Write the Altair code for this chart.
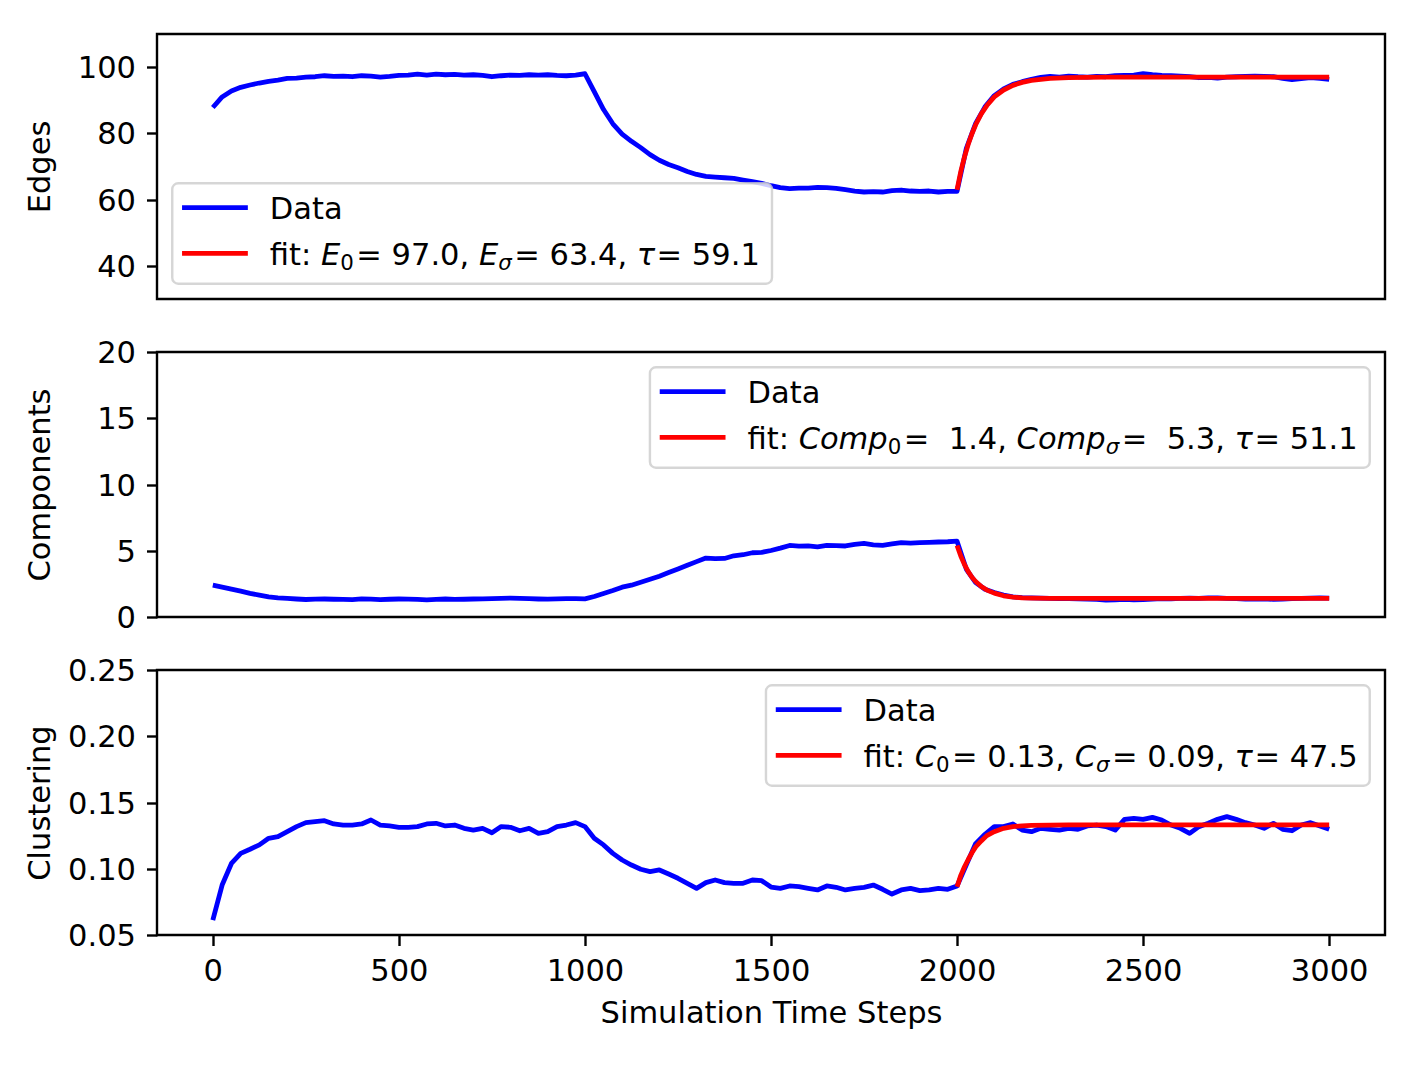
import altair as alt
import pandas as pd

# ---------------- data ----------------
STEPS = list(range(0, 3001, 25))

EDGES = [
    87.8, 91.0, 92.8, 93.9, 94.6, 95.2, 95.7, 96.1, 96.6, 96.7,
    97.0, 97.1, 97.4, 97.2, 97.3, 97.1, 97.4, 97.3, 97.0, 97.2,
    97.5, 97.6, 97.9, 97.6, 97.9, 97.7, 97.8, 97.6, 97.7, 97.5,
    97.1, 97.4, 97.6, 97.5, 97.7, 97.6, 97.7, 97.5, 97.4, 97.6,
    98.0, 92.6, 87.2, 82.9, 79.8, 77.6, 75.7, 73.6, 71.9, 70.6,
    69.6, 68.5, 67.6, 67.0, 66.8, 66.6, 66.4, 65.9, 65.4, 64.9,
    64.2, 63.6, 63.3, 63.5, 63.5, 63.7, 63.6, 63.4, 63.0, 62.6,
    62.3, 62.4, 62.3, 62.7, 62.9, 62.6, 62.5, 62.6, 62.3, 62.5,
    62.5, 75.5, 83.0, 88.0, 91.4, 93.4, 94.8, 95.6, 96.3, 96.9,
    97.2, 97.0, 97.3, 97.1, 97.0, 97.2, 97.1, 97.4, 97.5, 97.6,
    98.0, 97.7, 97.5, 97.4, 97.3, 97.1, 96.8, 96.9, 96.7, 97.0,
    97.1, 97.2, 97.3, 97.2, 97.1, 96.6, 96.2, 96.5, 96.8, 96.6,
    96.3,
]

COMPONENTS = [
    2.40, 2.25, 2.10, 1.95, 1.78, 1.65, 1.52, 1.45, 1.40, 1.36,
    1.32, 1.35, 1.36, 1.34, 1.33, 1.31, 1.37, 1.35, 1.31, 1.34,
    1.36, 1.35, 1.33, 1.30, 1.33, 1.36, 1.33, 1.34, 1.36, 1.37,
    1.39, 1.41, 1.43, 1.40, 1.38, 1.36, 1.35, 1.37, 1.39, 1.38,
    1.37, 1.55, 1.78, 2.00, 2.25, 2.40, 2.62, 2.85, 3.08, 3.35,
    3.62, 3.90, 4.18, 4.45, 4.40, 4.42, 4.62, 4.70, 4.85, 4.88,
    5.02, 5.20, 5.40, 5.35, 5.36, 5.30, 5.41, 5.38, 5.36, 5.48,
    5.55, 5.45, 5.41, 5.52, 5.62, 5.58, 5.61, 5.63, 5.66, 5.68,
    5.72, 3.60, 2.60, 2.10, 1.85, 1.66, 1.52, 1.46, 1.44, 1.42,
    1.40, 1.38, 1.39, 1.37, 1.36, 1.33, 1.28, 1.30, 1.33, 1.30,
    1.32, 1.36, 1.38, 1.37, 1.40, 1.42, 1.40, 1.44, 1.45, 1.41,
    1.38, 1.36, 1.35, 1.37, 1.33, 1.35, 1.38, 1.40, 1.42, 1.44,
    1.43,
]

CLUSTERING = [
    0.0613, 0.0877, 0.1040, 0.1116, 0.1147, 0.1180, 0.1230, 0.1242, 0.1280, 0.1318,
    0.1348, 0.1355, 0.1363, 0.1338, 0.1330, 0.1330, 0.1338, 0.1368, 0.1330, 0.1323,
    0.1313, 0.1313, 0.1318, 0.1338, 0.1343, 0.1323, 0.1330, 0.1305, 0.1292, 0.1305,
    0.1272, 0.1318, 0.1313, 0.1287, 0.1305, 0.1267, 0.1280, 0.1318, 0.1330, 0.1348,
    0.1318, 0.1230, 0.1180, 0.1116, 0.1066, 0.1028, 0.0996, 0.0978, 0.0991, 0.0960,
    0.0928, 0.0890, 0.0852, 0.0895, 0.0915, 0.0895, 0.0890, 0.0890, 0.0915, 0.0910,
    0.0862, 0.0852, 0.0870, 0.0865, 0.0852, 0.0840, 0.0870, 0.0860, 0.0840, 0.0852,
    0.0860, 0.0877, 0.0845, 0.0809, 0.0840, 0.0852, 0.0835, 0.0840, 0.0852, 0.0845,
    0.0870, 0.1030, 0.1190, 0.1260, 0.1318, 0.1318, 0.1338, 0.1292, 0.1280, 0.1305,
    0.1298, 0.1292, 0.1305, 0.1298, 0.1323, 0.1330, 0.1318, 0.1292, 0.1373, 0.1380,
    0.1373, 0.1388, 0.1368, 0.1330, 0.1305, 0.1267, 0.1318, 0.1343, 0.1373, 0.1393,
    0.1373, 0.1348, 0.1330, 0.1305, 0.1343, 0.1298, 0.1287, 0.1330, 0.1348, 0.1323,
    0.1298,
]

FIT_T = [2000, 2010, 2020, 2030, 2040, 2050, 2065, 2080, 2100, 2125,
         2150, 2175, 2200, 2250, 2300, 2400, 2600, 2800, 3000]
EDGES_FIT = [63.0, 68.5, 72.9, 76.7, 79.9, 82.6, 85.9, 88.4, 91.0, 93.1,
             94.5, 95.4, 96.0, 96.6, 96.85, 96.97, 97.0, 97.0, 97.0]
COMP_FIT = [5.40, 4.60, 3.95, 3.42, 3.00, 2.68, 2.30, 2.03, 1.80, 1.60,
            1.50, 1.45, 1.43, 1.41, 1.40, 1.40, 1.40, 1.40, 1.40]
CLUST_FIT = [0.0865, 0.0950, 0.1015, 0.1070, 0.1120, 0.1165, 0.1210, 0.1250, 0.1280, 0.1305,
             0.1318, 0.1324, 0.1327, 0.1330, 0.1331, 0.1331, 0.1331, 0.1331, 0.1331]

EDGES_PARAMS = [97.0, 63.4, 59.1]
COMP_PARAMS = [1.4, 5.3, 51.1]
CLUST_PARAMS = [0.13, 0.09, 47.5]

X_TICKS = [0, 500, 1000, 1500, 2000, 2500, 3000]
EDGES_TICKS = [40, 60, 80, 100]
COMP_TICKS = [0, 5, 10, 15, 20]
CLUST_TICKS = [0.05, 0.10, 0.15, 0.20, 0.25]

# ---------------- style ----------------
FONT = "DejaVu Sans"
S = 30.5            # font size (10 pt at ~220 dpi)
W, H = 1228, 265    # plot area of each panel
LW = 4.8
BLUE, RED = "#0000ff", "#ff0000"

# legend geometry (matplotlib defaults in font-size units)
BORDERPAD = 0.4 * S
HANDLE = 2.0 * S
HTPAD = 0.8 * S
AXPAD = 0.5 * S
BOX_H = 100.5
ROW1 = 35.7
ROW_SP = 45.7
HANDLE_DY = -11.3
SUB_SCALE = 0.7
SUB_DY = 5.5
MATH_GAP = 2.5

# DejaVu Sans advance widths (units per em = 2048)
REG = {" ": 651, ",": 651, ".": 651, ":": 690, "=": 1716, "f": 721, "i": 569,
       "t": 803, "D": 1577, "a": 1255}
for _d in "0123456789":
    REG[_d] = 1303
ITA = {"E": 1294, "C": 1430, "o": 1253, "m": 1995, "p": 1300, "σ": 1300, "τ": 1165}


def adv(s, table, size):
    return sum(table[c] for c in s) / 2048.0 * size


def legend_parts(sym, vals, fmts):
    parts = [("fit:", adv("fit: ", REG, S), "normal", S, 0)]
    names = [(sym, "0"), (sym, "σ"), (None, "τ")]
    for k, ((base, sub), v, fmt) in enumerate(zip(names, vals, fmts)):
        if base:
            parts.append((base, adv(base, ITA, S), "italic", S, 0))
            if sub == "0":
                parts.append((sub, adv(sub, REG, S * SUB_SCALE) + MATH_GAP, "normal",
                              S * SUB_SCALE, SUB_DY))
            else:
                parts.append((sub, adv(sub, ITA, S * SUB_SCALE) + MATH_GAP, "italic",
                              S * SUB_SCALE, SUB_DY))
        else:
            parts.append((sub, adv(sub, ITA, S) + MATH_GAP, "italic", S, 0))
        num = fmt % v
        lead = len(num) - len(num.lstrip(" "))
        parts.append(("=", adv("=" + " " * lead, REG, S), "normal", S, 0))
        body = num.strip() + (", " if k < 2 else "")
        parts.append((body.strip(), adv(body, REG, S), "normal", S, 0))
    return parts


ONE = pd.DataFrame({"k": [0]})


def legend_layers(sym, vals, fmts, loc):
    parts = legend_parts(sym, vals, fmts)
    text_w = sum(p[1] for p in parts)
    box_w = 2 * BORDERPAD + HANDLE + HTPAD + text_w
    if loc == "lower left":
        bx0, by0 = AXPAD, H - AXPAD - BOX_H
    else:
        bx0, by0 = W - AXPAD - box_w, AXPAD
    bx1, by1 = bx0 + box_w, by0 + BOX_H
    hx0 = bx0 + BORDERPAD
    hx1 = hx0 + HANDLE
    tx = hx1 + HTPAD
    base1 = by0 + ROW1
    base2 = base1 + ROW_SP

    layers = [
        alt.Chart(ONE).mark_rect(fill="white", fillOpacity=0.8, stroke="#cccccc",
                                 strokeOpacity=0.8, strokeWidth=2.4, cornerRadius=6)
        .encode(x=alt.value(bx0), x2=alt.value(bx1), y=alt.value(by0), y2=alt.value(by1)),
        alt.Chart(ONE).mark_rule(color=BLUE, strokeWidth=LW, strokeCap="square")
        .encode(x=alt.value(hx0), x2=alt.value(hx1), y=alt.value(base1 + HANDLE_DY)),
        alt.Chart(ONE).mark_rule(color=RED, strokeWidth=LW, strokeCap="square")
        .encode(x=alt.value(hx0), x2=alt.value(hx1), y=alt.value(base2 + HANDLE_DY)),
        alt.Chart(ONE).mark_text(align="left", baseline="alphabetic", font=FONT,
                                 fontSize=S, color="black")
        .encode(x=alt.value(tx), y=alt.value(base1), text=alt.value("Data")),
    ]
    x = tx
    for text, w, style, size, dy in parts:
        layers.append(
            alt.Chart(ONE).mark_text(align="left", baseline="alphabetic", font=FONT,
                                     fontSize=size, fontStyle=style, color="black")
            .encode(x=alt.value(x), y=alt.value(base2 + dy), text=alt.value(text))
        )
        x += w
    return layers


def panel(values, fit, ydom, yticks, yfmt, ytitle, sym, params, fmts, loc, bottom):
    df = pd.DataFrame({"t": STEPS, "v": values})
    fdf = pd.DataFrame({"t": FIT_T, "v": fit})
    xscale = alt.Scale(domain=[-150, 3150], nice=False, zero=False)
    yscale = alt.Scale(domain=ydom, nice=False, zero=False)
    if bottom:
        xaxis = alt.Axis(values=X_TICKS, format="d", title="Simulation Time Steps",
                         labelBaseline="alphabetic", labelPadding=35.2, labelFlush=False,
                         titleX=W / 2, titleY=87.5, titleBaseline="alphabetic",
                         titleAlign="center")
    else:
        xaxis = None
    yaxis = alt.Axis(values=yticks, format=yfmt, title=ytitle,
                     titleX=-107.5, titleY=H / 2, titleBaseline="alphabetic",
                     titleAlign="center", labelBaseline="alphabetic",
                     labelOffset=10.5, labelPadding=11)
    data_line = alt.Chart(df).mark_line(color=BLUE, strokeWidth=LW, strokeJoin="round").encode(
        x=alt.X("t:Q", scale=xscale, axis=xaxis),
        y=alt.Y("v:Q", scale=yscale, axis=yaxis),
    )
    fit_line = alt.Chart(fdf).mark_line(color=RED, strokeWidth=LW, strokeJoin="round").encode(
        x=alt.X("t:Q", scale=xscale, axis=xaxis),
        y=alt.Y("v:Q", scale=yscale, axis=yaxis),
    )
    layers = [data_line, fit_line] + legend_layers(sym, params, fmts, loc)
    return alt.layer(*layers).properties(width=W, height=H)


p1 = panel(EDGES, EDGES_FIT, [30, 110], EDGES_TICKS, "d", "Edges",
           "E", EDGES_PARAMS, ["%5.1f", "%5.1f", "%5.1f"], "lower left", False)
p2 = panel(COMPONENTS, COMP_FIT, [0, 20], COMP_TICKS, "d", "Components",
           "Comp", COMP_PARAMS, ["%5.1f", "%5.1f", "%5.1f"], "upper right", False)
p3 = panel(CLUSTERING, CLUST_FIT, [0.05, 0.25], CLUST_TICKS, ".2f", "Clustering",
           "C", CLUST_PARAMS, ["%5.2f", "%5.2f", "%5.1f"], "upper right", True)

chart = (
    alt.vconcat(p1, p2, p3, spacing=53, bounds="flush")
    .properties(padding={"left": 16, "top": 24, "right": 20, "bottom": 10},
                background="white")
    .configure_axis(labelFont=FONT, labelFontSize=S, labelColor="black",
                    titleFont=FONT, titleFontSize=S, titleFontWeight="normal",
                    titleColor="black", tickColor="black", tickWidth=2.4,
                    tickSize=10.5, domain=False, grid=False, labelOverlap=False)
    .configure_view(stroke="black", strokeWidth=2.4)
)

chart.save("out.html", embed_options={"renderer": "svg", "actions": False})
